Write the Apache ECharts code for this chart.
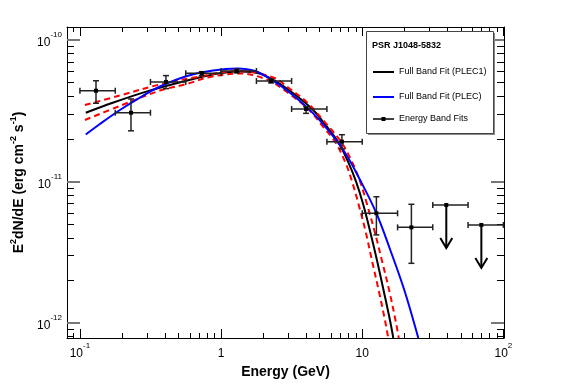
<!DOCTYPE html>
<html><head><meta charset="utf-8">
<script src="https://cdn.jsdelivr.net/npm/echarts@6/dist/echarts.min.js"></script>
<style>html,body{margin:0;padding:0;background:#fff}#c{width:567px;height:384px}</style>
</head><body><div id="c"></div>
<script>
// ---- Energy band fits (GeV, erg cm^-2 s^-1) ----
const bandE   = [0.130, 0.230, 0.407, 0.730, 1.29, 2.26, 4.00, 7.18, 12.6, 22.3, 39.4, 69.8];
const bandElo = [0.100, 0.178, 0.316, 0.562, 1.00, 1.78, 3.16, 5.62, 10.0, 17.8, 31.6, 56.2];
const bandEhi = [0.178, 0.316, 0.562, 1.00, 1.78, 3.16, 5.62, 10.0, 17.8, 31.6, 56.2, 100];
const bandF   = [4.38e-11, 3.06e-11, 5.05e-11, 5.82e-11, 6.04e-11, 5.13e-11, 3.25e-11, 1.91e-11, 5.96e-12, 4.74e-12, 6.82e-12, 4.93e-12];
const bandFlo = [3.57e-11, 2.28e-11, 4.53e-11, 5.60e-11, 5.85e-11, 4.97e-11, 3.03e-11, 1.70e-11, 4.19e-12, 2.64e-12, 6.82e-12, 4.93e-12];
const bandFhi = [5.15e-11, 3.83e-11, 5.60e-11, 5.97e-11, 6.24e-11, 5.30e-11, 3.38e-11, 2.14e-11, 7.80e-12, 6.90e-12, 6.82e-12, 4.93e-12];
const bandUL  = [0, 0, 0, 0, 0, 0, 0, 0, 0, 0, 1, 1];

// ---- Full band fit PLEC1 (black) ----
const plec1E = [0.110, 0.171, 0.299, 0.574, 0.878, 1.30, 1.74, 2.26, 3.09, 4.42, 5.56, 6.76, 7.96, 9.07, 10.2, 11.4, 12.8, 14.3, 15.8, 16.6];
const plec1F = [3.06e-11, 3.60e-11, 4.33e-11, 5.17e-11, 5.71e-11, 5.99e-11, 5.89e-11, 5.34e-11, 4.36e-11, 3.25e-11, 2.47e-11, 1.90e-11, 1.37e-11, 9.9e-12, 6.8e-12, 4.4e-12, 2.7e-12, 1.63e-12, 1.02e-12, 7.83e-13];
// ---- PLEC1 band upper / lower (red dashed) ----
const upE = [0.1085, 0.192, 0.369, 0.710, 1.30, 2.34, 3.09, 4.07, 5.65, 7.10, 8.49, 9.68, 10.85, 12.27, 13.87, 15.67, 17.29, 18.15];
const upF = [3.47e-11, 4.05e-11, 4.85e-11, 5.52e-11, 6.06e-11, 5.43e-11, 4.50e-11, 3.62e-11, 2.51e-11, 1.90e-11, 1.37e-11, 9.92e-12, 6.82e-12, 4.39e-12, 2.70e-12, 1.63e-12, 1.02e-12, 7.83e-13];
const loE = [0.1085, 0.192, 0.369, 0.574, 0.835, 1.36, 2.15, 2.99, 4.21, 5.29, 6.44, 7.58, 8.49, 9.45, 10.59, 11.78, 13.20, 14.56, 15.29];
const loF = [2.72e-11, 3.42e-11, 4.39e-11, 4.89e-11, 5.48e-11, 5.80e-11, 5.21e-11, 4.22e-11, 3.20e-11, 2.43e-11, 1.90e-11, 1.37e-11, 9.92e-12, 6.82e-12, 4.39e-12, 2.70e-12, 1.63e-12, 1.02e-12, 7.83e-13];
// ---- Full band fit PLEC (blue) ----
const plecE = [0.110, 0.1386, 0.192, 0.266, 0.369, 0.574, 0.878, 1.30, 1.74, 2.26, 3.09, 4.28, 5.74, 7.58, 9.68, 12.57, 15.80, 19.86, 24.96];
const plecF = [2.15e-11, 2.55e-11, 3.20e-11, 3.92e-11, 4.69e-11, 5.57e-11, 6.09e-11, 6.29e-11, 6.04e-11, 5.26e-11, 4.22e-11, 3.18e-11, 2.31e-11, 1.59e-11, 1.02e-11, 5.99e-12, 3.28e-12, 1.71e-12, 7.83e-13];

// ---- axes ----
const xRange = [0.081, 101];
const yRange = [7.83e-13, 1.235e-10];
const xMajor = [-1, 0, 1, 2];
const yMajor = [-12, -11, -10];

const L = Math.log10;
function pairs(xs, ys) { return xs.map((x, i) => [L(x), L(ys[i])]); }
function minors(range) {
  const out = [];
  const a = L(range[0]), b = L(range[1]);
  for (let d = Math.floor(a) - 1; d <= Math.ceil(b); d++) {
    for (let m = 2; m <= 9; m++) {
      const v = L(m) + d;
      if (v >= a && v <= b) out.push(v);
    }
  }
  return out;
}
const xMinor = minors(xRange), yMinor = minors(yRange);

function powLabel(v) {
  const p = Math.round(v);
  if (p === 0) return '{b|1}';
  if (p === 1) return '{b|10}';
  return '{b|10}{s|' + p + '}';
}
const labRich = {
  b: { fontFamily: 'Liberation Sans', fontSize: 12, color: '#000', lineHeight: 18, verticalAlign: 'bottom' },
  s: { fontFamily: 'Liberation Sans', fontSize: 8, color: '#000', lineHeight: 10, verticalAlign: 'top' }
};

function mkX(pos, major, showLabel) {
  return {
    type: 'value', position: pos, min: L(xRange[0]), max: L(xRange[1]),
    axisLine: { show: major, onZero: false, lineStyle: { color: '#000', width: 1 } },
    axisTick: { show: true, inside: true, length: major ? 9 : 5, customValues: major ? xMajor : xMinor, lineStyle: { color: '#000', width: 1 } },
    axisLabel: { show: showLabel, customValues: xMajor, formatter: powLabel, rich: labRich, margin: 4 },
    splitLine: { show: false },
    name: showLabel ? 'Energy (GeV)' : '',
    nameLocation: 'middle', nameGap: 22,
    nameTextStyle: { fontFamily: 'Liberation Sans', fontWeight: 'bold', fontSize: 14, color: '#000' }
  };
}
function mkY(pos, major, showLabel) {
  return {
    type: 'value', position: pos, min: L(yRange[0]), max: L(yRange[1]),
    axisLine: { show: major, onZero: false, lineStyle: { color: '#000', width: 1 } },
    axisTick: { show: true, inside: true, length: major ? 13 : 7, customValues: major ? yMajor : yMinor,
      lineStyle: { color: major ? '#777' : '#000', width: major ? 2 : 1 } },
    axisLabel: { show: showLabel, customValues: yMajor, formatter: powLabel, rich: labRich, margin: 5 },
    splitLine: { show: false },
    name: showLabel ? '{m|E}{s|2}{m|dN/dE (erg cm}{s|-2}{m| s}{s|-1}{m|)}' : '',
    nameLocation: 'middle', nameGap: 37, nameRotate: 90,
    nameTextStyle: {
      rich: {
        m: { fontFamily: 'Liberation Sans', fontWeight: 'bold', fontSize: 14, color: '#000', lineHeight: 17, verticalAlign: 'bottom' },
        s: { fontFamily: 'Liberation Sans', fontWeight: 'bold', fontSize: 9, color: '#000', lineHeight: 10, verticalAlign: 'top' }
      }
    }
  };
}

const bandData = bandE.map((e, i) => [L(e), L(bandF[i]), L(bandElo[i]), L(bandEhi[i]), L(bandFlo[i]), L(bandFhi[i]), bandUL[i]]);

const ebStyle = { stroke: '#222', lineWidth: 1.5 };
function renderBand(params, api) {
  const x = api.value(0), y = api.value(1);
  const c = api.coord([x, y]);
  const xl = api.coord([api.value(2), y]);
  const xh = api.coord([api.value(3), y]);
  const ul = api.value(6);
  const ch = [];
  const line = (x1, y1, x2, y2) => ch.push({ type: 'line', shape: { x1, y1, x2, y2 }, style: ebStyle });
  line(xl[0], c[1], xh[0], c[1]);
  line(xl[0], c[1] - 3, xl[0], c[1] + 3);
  line(xh[0], c[1] - 3, xh[0], c[1] + 3);
  if (!ul) {
    const yl = api.coord([x, api.value(4)]);
    const yh = api.coord([x, api.value(5)]);
    line(c[0], yl[1], c[0], yh[1]);
    line(c[0] - 3, yl[1], c[0] + 3, yl[1]);
    line(c[0] - 3, yh[1], c[0] + 3, yh[1]);
  } else {
    const tip = c[1] + 43;
    ch.push({ type: 'line', shape: { x1: c[0], y1: c[1], x2: c[0], y2: tip }, style: { stroke: '#000', lineWidth: 2 } });
    ch.push({ type: 'polyline', shape: { points: [[c[0] - 6, tip - 10], [c[0], tip], [c[0] + 6, tip - 10]] }, style: { stroke: '#000', lineWidth: 2, fill: null } });
  }
  ch.push({ type: 'rect', shape: { x: c[0] - 2, y: c[1] - 2, width: 4, height: 4 }, style: { fill: '#000' } });
  return { type: 'group', children: ch };
}

const lineBase = { type: 'line', showSymbol: false, smooth: 0.35, xAxisIndex: 0, yAxisIndex: 0, silent: true, animation: false, clip: true };

const LX = 366, LY = 31;
const option = {
  animation: false,
  grid: { left: 67, right: 63, top: 27, bottom: 46 },
  xAxis: [mkX('bottom', true, true), mkX('bottom', false, false), mkX('top', true, false), mkX('top', false, false)],
  yAxis: [mkY('left', true, true), mkY('left', false, false), mkY('right', true, false), mkY('right', false, false)],
  series: [
    Object.assign({}, lineBase, { name: 'Full Band Fit (PLEC1)', data: pairs(plec1E, plec1F), lineStyle: { color: '#000', width: 2 } }),
    Object.assign({}, lineBase, { name: 'upper', data: pairs(upE, upF), lineStyle: { color: '#ff0000', width: 2, type: [6, 4] } }),
    Object.assign({}, lineBase, { name: 'lower', data: pairs(loE, loF), lineStyle: { color: '#ff0000', width: 2, type: [6, 4] } }),
    Object.assign({}, lineBase, { name: 'Full Band Fit (PLEC)', data: pairs(plecE, plecF), lineStyle: { color: '#0000ff', width: 2 } }),
    { type: 'custom', name: 'Energy Band Fits', xAxisIndex: 0, yAxisIndex: 0, data: bandData, renderItem: renderBand, silent: true, animation: false, clip: false, z: 5 }
  ],
  graphic: [
    { type: 'rect', left: LX + 2, top: LY + 2, shape: { width: 127, height: 102 }, style: { fill: '#888' }, z: 10 },
    { type: 'rect', left: LX, top: LY, shape: { width: 127, height: 102 }, style: { fill: '#fff', stroke: '#444', lineWidth: 1 }, z: 11 },
    { type: 'text', left: LX + 6, top: LY + 10, style: { text: 'PSR J1048-5832', font: 'bold 9px "Liberation Sans"', fill: '#000' }, z: 12 },
    { type: 'line', shape: { x1: LX + 7, y1: LY + 41, x2: LX + 28, y2: LY + 41 }, style: { stroke: '#000', lineWidth: 2 }, z: 12 },
    { type: 'text', left: LX + 33, top: LY + 36, style: { text: 'Full Band Fit (PLEC1)', font: '9px "Liberation Sans"', fill: '#000' }, z: 12 },
    { type: 'line', shape: { x1: LX + 7, y1: LY + 66, x2: LX + 28, y2: LY + 66 }, style: { stroke: '#0000ff', lineWidth: 2 }, z: 12 },
    { type: 'text', left: LX + 33, top: LY + 61, style: { text: 'Full Band Fit (PLEC)', font: '9px "Liberation Sans"', fill: '#000' }, z: 12 },
    { type: 'line', shape: { x1: LX + 7, y1: LY + 88, x2: LX + 28, y2: LY + 88 }, style: { stroke: '#000', lineWidth: 1.5 }, z: 12 },
    { type: 'rect', shape: { x: LX + 15.5, y: LY + 86, width: 4, height: 4 }, style: { fill: '#000' }, z: 12 },
    { type: 'text', left: LX + 33, top: LY + 83, style: { text: 'Energy Band Fits', font: '9px "Liberation Sans"', fill: '#000' }, z: 12 }
  ]
};
const chart = echarts.init(document.getElementById('c'), null, { renderer: 'canvas' });
chart.setOption(option);
</script>
</body></html>
